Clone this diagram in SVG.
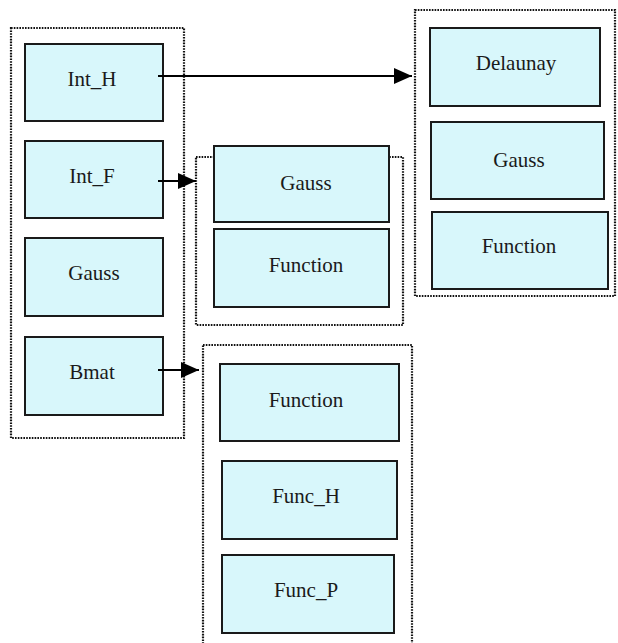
<svg xmlns="http://www.w3.org/2000/svg" width="618" height="643" viewBox="0 0 618 643">
<defs>
<style>
.grp{fill:none;stroke:#111;stroke-width:2.2;stroke-dasharray:1.6 1.2}
.box{fill:#d8f7fb;stroke:#1a1a1a;stroke-width:2}
.lbl{font-family:"Liberation Serif","Times New Roman",serif;font-size:21px;fill:#1a1a1a;text-anchor:middle}
.conn{stroke:#000;stroke-width:2;fill:none}
</style>
<marker id="ah" viewBox="0 0 18 16" refX="18" refY="8" markerWidth="18" markerHeight="16" markerUnits="userSpaceOnUse" orient="auto">
<path d="M0,0 L18,8 L0,16 Z" fill="#000"/>
</marker>
</defs>
<rect class="grp" x="11" y="28" width="173" height="410"/>
<rect class="grp" x="196" y="157" width="207" height="168"/>
<rect class="grp" x="415" y="10" width="200" height="286"/>
<rect class="grp" x="203" y="345" width="209" height="310"/>
<g id="int_h"><rect class="box" x="25" y="44" width="138" height="77"/><text class="lbl" x="92" y="86">Int_H</text></g>
<g id="int_f"><rect class="box" x="25" y="141" width="138" height="77"/><text class="lbl" x="92" y="183">Int_F</text></g>
<g id="gauss_l"><rect class="box" x="25" y="238" width="138" height="78"/><text class="lbl" x="94" y="280">Gauss</text></g>
<g id="bmat"><rect class="box" x="25" y="337" width="138" height="78"/><text class="lbl" x="92" y="379">Bmat</text></g>
<g id="gauss_m"><rect class="box" x="214" y="146" width="175" height="76"/><text class="lbl" x="306" y="190">Gauss</text></g>
<g id="function_m"><rect class="box" x="214" y="229" width="175" height="78"/><text class="lbl" x="306" y="272">Function</text></g>
<g id="delaunay"><rect class="box" x="430" y="28" width="170" height="78"/><text class="lbl" x="516" y="70">Delaunay</text></g>
<g id="gauss_r"><rect class="box" x="431" y="122" width="173" height="77"/><text class="lbl" x="519" y="167">Gauss</text></g>
<g id="function_r"><rect class="box" x="432" y="212" width="176" height="77"/><text class="lbl" x="519" y="253">Function</text></g>
<g id="function_b"><rect class="box" x="220" y="364" width="179" height="77"/><text class="lbl" x="306" y="407">Function</text></g>
<g id="func_h"><rect class="box" x="222" y="461" width="175" height="78"/><text class="lbl" x="306" y="503">Func_H</text></g>
<g id="func_p"><rect class="box" x="222" y="555" width="172" height="78"/><text class="lbl" x="306" y="597">Func_P</text></g>
<g id="connectors">
<line class="conn" x1="158" y1="76" x2="412" y2="76" marker-end="url(#ah)"/>
<line class="conn" x1="158" y1="181" x2="196" y2="181" marker-end="url(#ah)"/>
<line class="conn" x1="158" y1="370" x2="199" y2="370" marker-end="url(#ah)"/>
</g>
</svg>
